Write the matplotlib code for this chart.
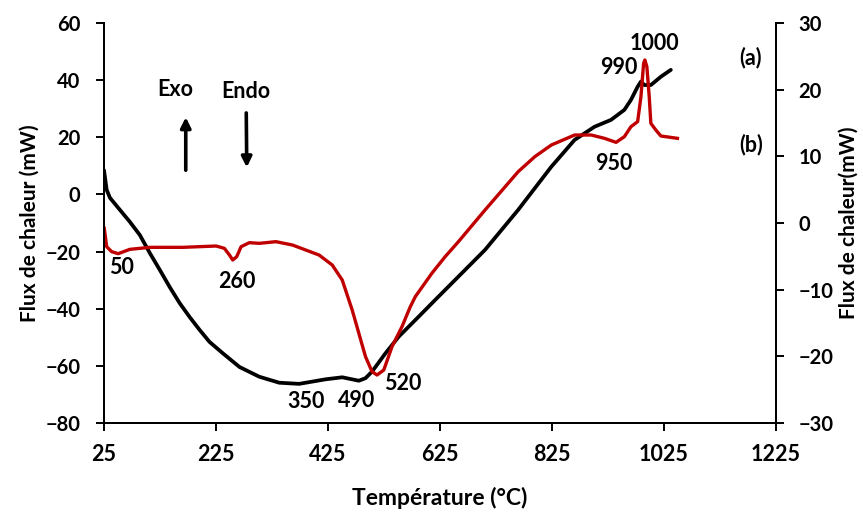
import numpy as np
import matplotlib.pyplot as plt

plt.rcParams['font.family'] = ['Lato', 'DejaVu Sans']
plt.rcParams['font.weight'] = 'bold'

# courbe (a) - axe de gauche
temp_a = [25, 29.8, 35.7, 53.4, 71.2, 89, 106.8, 124.6, 142.3, 160, 177.9, 195.7, 213.4,
          236.6, 267, 302.3, 337.9, 373.4, 420.9, 450.4, 480.1, 492, 503.7, 527.6, 551.2,
          586.8, 616.5, 646, 705.4, 764.6, 823.8, 865.4, 901, 930.4, 954.2, 966, 977.9,
          983.8, 989.9, 1001.6, 1019.4, 1037.2]
flux_a = [8.5, 1.6, -1.2, -5.4, -9.6, -14.2, -20.5, -26.4, -32.4, -38, -42.9, -47.4, -51.6,
          -55.5, -60.4, -63.8, -65.9, -66.3, -64.7, -64, -65.2, -64.3, -62, -55.6, -49.8,
          -42.8, -36.9, -31.1, -19.4, -5.4, 9.7, 19.1, 23.7, 26.1, 29.6, 33.1, 37.7,
          39.5, 38.3, 38.3, 41.2, 43.6]

# courbe (b) - axe de droite
temp_b = [25.5, 29.8, 38.7, 50.4, 71.2, 106.8, 165.4, 225.3, 240, 249, 254.9, 262, 269.8,
          284.6, 302.3, 332, 361.5, 409, 432.6, 450.4, 468.2, 480.1, 492, 503.7, 512.6,
          524.6, 539.3, 557.1, 572, 580.9, 610.4, 634.2, 657.9, 705.4, 764.6, 794.3,
          823.8, 865.4, 895, 918.7, 939.4, 954.2, 966, 977.9, 983.8, 988.6, 990.8,
          994.4, 998.6, 1001.5, 1010.4, 1019.4, 1049]
flux_b = [-0.8, -3.55, -4.3, -4.6, -3.95, -3.65, -3.65, -3.45, -3.8, -4.8, -5.55, -5.05, -3.55,
          -2.95, -3.05, -2.8, -3.3, -4.8, -6.3, -8.55, -13.05, -16.55, -20.05, -22.3, -22.8,
          -22.05, -18.55, -15.55, -12.55, -11.05, -7.55, -5.05, -2.8, 1.95, 7.7, 9.95,
          11.7, 13.2, 13.2, 12.7, 12.1, 12.95, 14.45, 15.2, 18.95, 23.95, 24.45,
          23.45, 18.95, 14.95, 13.95, 13.05, 12.7]

x_ticks = [25, 225, 425, 625, 825, 1025, 1225]
left_ticks = [-80, -60, -40, -20, 0, 20, 40, 60]
right_ticks = [-30, -20, -10, 0, 10, 20, 30]

fig = plt.figure(figsize=(8.63, 5.17), dpi=100)
ax = fig.add_axes([0.1205, 0.1818, 0.7787, 0.7737])
ax2 = ax.twinx()

ax.plot(temp_a, flux_a, color='black', lw=2.7, solid_capstyle='round', solid_joinstyle='round')
ax2.plot(temp_b, flux_b, color='#c00000', lw=2.4, solid_joinstyle='round')

ax.set_xlim(25, 1225)
ax.set_ylim(-80, 60)
ax2.set_ylim(-30, 30)
ax.set_xticks(x_ticks)
ax.set_yticks(left_ticks)
ax2.set_yticks(right_ticks)

for a in (ax, ax2):
    a.spines['top'].set_visible(False)
    for s in a.spines.values():
        s.set_linewidth(1.4)
    a.tick_params(direction='out', length=6, width=1.4, labelsize=14.5)
ax.tick_params(axis='x', pad=9, labelsize=15.5)
ax.tick_params(axis='y', pad=11)
ax2.tick_params(axis='y', pad=10)

ax.set_xlabel('Température (°C)', fontsize=16.5, fontweight='bold', labelpad=16)
ax.set_ylabel('Flux de chaleur (mW)', fontsize=15, fontweight='bold', labelpad=4)
ax2.set_ylabel('Flux de chaleur(mW)', fontsize=15, fontweight='bold', labelpad=4)

# annotations des pics
lab = dict(fontsize=15.5, fontweight='bold', ha='center', va='center')
ax.text(57, -25.7, '50', **lab)
ax.text(262, -30.3, '260', **lab)
ax.text(385, -72.6, '350', **lab)
ax.text(476, -72, '490', **lab)
ax.text(558, -66, '520', **lab)
ax.text(935, 11, '950', **lab)
ax.text(945, 44.3, '990', **lab)
ax.text(1008, 53, '1000', **lab)
ax.text(1180, 47.8, '(a)', **lab)
ax.text(1180, 17.3, '(b)', **lab)
ax.text(152, 36.6, 'Exo', **lab)
ax.text(279, 36.2, 'Endo', **lab)

ax.annotate('', xy=(171, 28), xytext=(171, 7.5),
            arrowprops=dict(arrowstyle='-|>', color='black', lw=2.6, mutation_scale=15))
ax.annotate('', xy=(280, 8.5), xytext=(279, 29.5),
            arrowprops=dict(arrowstyle='-|>', color='black', lw=2.6, mutation_scale=15))

fig.savefig('out.png', dpi=100)
